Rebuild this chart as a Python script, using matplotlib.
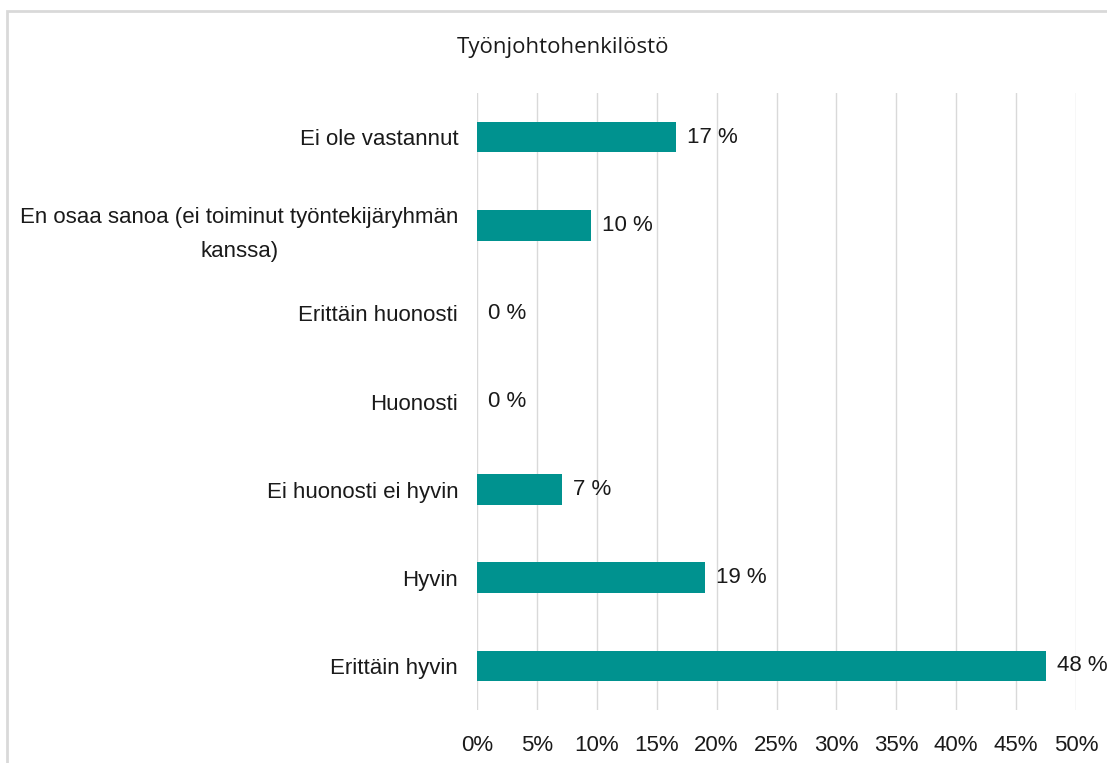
import matplotlib
matplotlib.use("Agg")
import matplotlib.pyplot as plt
from matplotlib.patches import Rectangle
from matplotlib.ticker import FuncFormatter, MultipleLocator

categories = ["Ei ole vastannut",
              "En osaa sanoa (ei toiminut työntekijäryhmän\nkanssa)",
              "Erittäin huonosti",
              "Huonosti",
              "Ei huonosti ei hyvin",
              "Hyvin",
              "Erittäin hyvin"]
values = [16.6, 9.5, 0.0, 0.0, 7.1, 19.0, 47.5]
labels = ["17 %", "10 %", "0 %", "0 %", "7 %", "19 %", "48 %"]
title = "Työnjohtohenkilöstö"

lab_font = ["Liberation Sans", "DejaVu Sans"]
fsz = 16

W, H = 1107, 763
fig = plt.figure(figsize=(W/100, H/100), dpi=100)
ax = fig.add_axes([477/W, 1-710/H, (1076-477)/W, (710-93)/H])

ypos = list(range(len(categories)))
color = "#00928F"
ax.barh(ypos, values, height=0.35, color=color, zorder=3)
for y, v, l in zip(ypos, values, labels):
    ax.text(v + 0.95, y, l, va="center", ha="left", fontsize=fsz,
            family=lab_font, color="#1a1a1a")

ax.set_ylim(6.5, -0.5)
ax.set_xlim(0, 50)
ax.set_yticks(ypos)
ax.set_yticklabels(categories, family=lab_font, fontsize=fsz, color="#1a1a1a",
                   multialignment="center", linespacing=1.85)
ax.tick_params(axis="y", length=0, pad=13.5)
ax.xaxis.set_major_locator(MultipleLocator(5))
ax.xaxis.set_major_formatter(FuncFormatter(lambda x, p: f"{int(round(x))}%"))
for lab in ax.get_xticklabels():
    lab.set_family(lab_font)
ax.tick_params(axis="x", length=0, pad=18, labelsize=fsz, labelcolor="#1a1a1a")
ax.grid(axis="x", color="#d9d9d9", lw=1, zorder=0)
for s in ax.spines.values():
    s.set_visible(False)

fig.text(563/W, 1-48/H, title, ha="center", va="center", fontsize=16,
         family="Open Sans", color="#1a1a1a")

fig.patches.append(Rectangle((7/W, -0.1), 1.2, 1.1 - 11/H,
                             transform=fig.transFigure, fill=False,
                             edgecolor="#d9d9d9", lw=2))

fig.savefig("out.png", dpi=100)
